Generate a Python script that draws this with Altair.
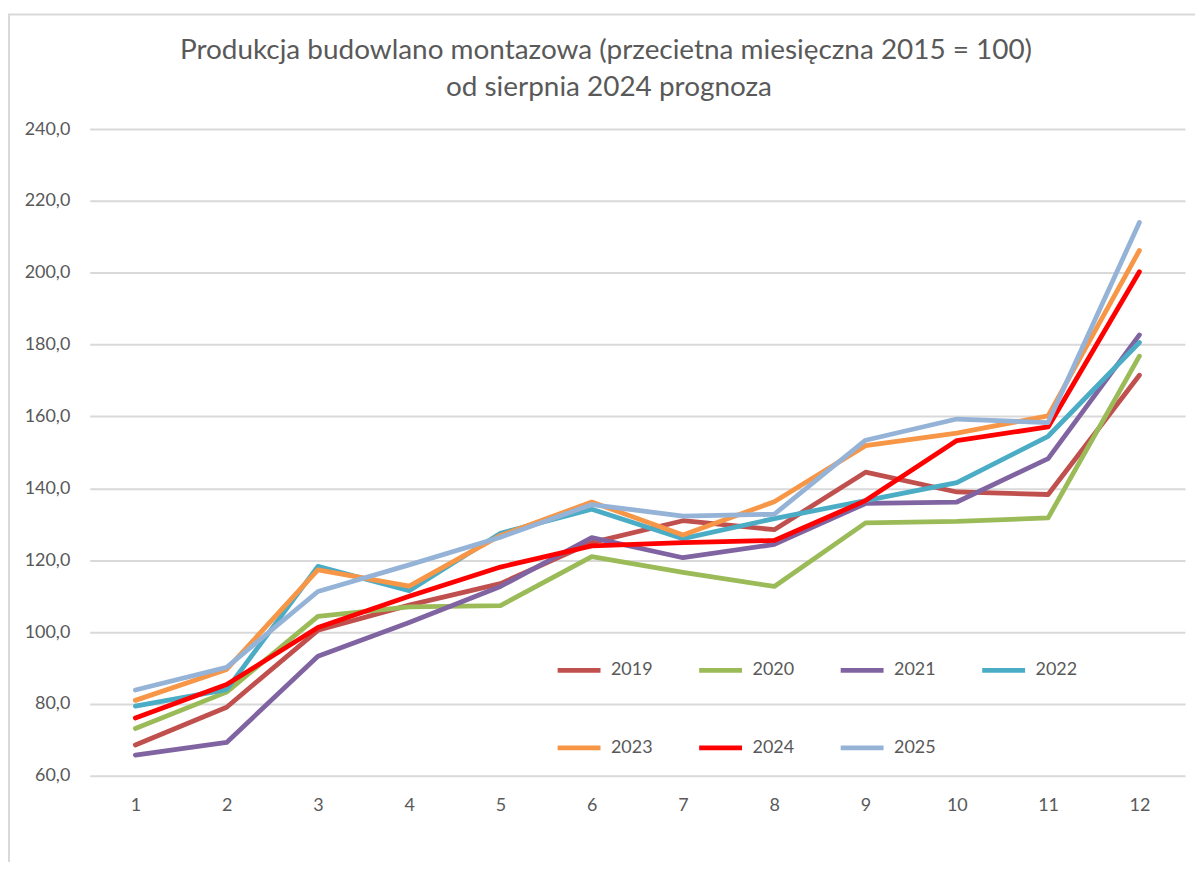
import altair as alt
import pandas as pd

months = list(range(1, 13))
years = ["2019", "2020", "2021", "2022", "2023", "2024", "2025"]

v2019 = [68.6, 79.1, 100.5, 107.5, 113.5, 124.9, 131.0, 128.5, 144.5, 139.0, 138.3, 171.5]
v2020 = [73.2, 83.3, 104.4, 107.0, 107.4, 121.0, 116.6, 112.7, 130.4, 130.8, 131.8, 176.8]
v2021 = [65.8, 69.3, 93.3, 102.7, 112.7, 126.3, 120.7, 124.4, 135.8, 136.2, 148.3, 182.7]
v2022 = [79.4, 84.0, 118.3, 111.5, 127.5, 134.2, 126.0, 131.6, 136.6, 141.6, 154.5, 180.6]
v2023 = [81.0, 89.6, 117.3, 112.8, 126.9, 136.2, 127.0, 136.3, 151.9, 155.4, 160.2, 206.2]
v2024 = [76.1, 85.4, 101.3, 110.0, 118.1, 124.0, 124.9, 125.5, 136.6, 153.3, 157.1, 200.3]
v2025 = [83.9, 90.2, 111.3, 118.7, 126.4, 135.5, 132.3, 132.8, 153.4, 159.3, 158.3, 214.0]

series = [v2019, v2020, v2021, v2022, v2023, v2024, v2025]
colors = ["#C0504D", "#9BBB59", "#8064A2", "#4BACC6", "#F79646", "#FF0000", "#95B3D7"]

title_lines = ["Produkcja budowlano montazowa (przecietna miesięczna 2015 = 100)",
               "od sierpnia 2024 prognoza"]

rows = []
for i, (y, vals) in enumerate(zip(years, series)):
    for m, v in zip(months, vals):
        rows.append({"month": m, "year": y, "value": v, "ord": i})
df = pd.DataFrame(rows)

FONT = "Lato"
GREY = "#595959"

lines = alt.Chart(df).mark_line(
    strokeWidth=4.8, strokeCap="round", strokeJoin="round"
).encode(
    x=alt.X("month:O", scale=alt.Scale(type="point", padding=0.5),
            axis=alt.Axis(title=None, labelAngle=0, ticks=False, domain=False,
                          labelFontSize=18, labelColor=GREY, labelFont=FONT,
                          labelPadding=21, grid=False)),
    y=alt.Y("value:Q", scale=alt.Scale(domain=[60, 240], nice=False, zero=False),
            axis=alt.Axis(title=None, values=list(range(60, 241, 20)), ticks=False, domain=False,
                          labelExpr="replace(format(datum.value, '.1f'), '.', ',')",
                          labelFontSize=18, labelColor=GREY, labelFont=FONT,
                          labelPadding=20, gridColor="#D9D9D9", gridWidth=2)),
    color=alt.Color("year:N", scale=alt.Scale(domain=years, range=colors),
                    legend=alt.Legend(title=None, orient="none", legendX=467, legendY=519,
                                      direction="horizontal", columns=4,
                                      symbolType="stroke", symbolSize=1850, symbolStrokeWidth=4.8,
                                      labelFontSize=18, labelColor=GREY, labelFont=FONT,
                                      labelOffset=8, columnPadding=36, rowPadding=44)),
    order="ord:Q",
)

frame = alt.Chart(pd.DataFrame({"a": [0]})).mark_rect(
    fill=None, stroke="#D9D9D9", strokeWidth=2
).encode(
    x=alt.value(-81), x2=alt.value(1200), y=alt.value(-115), y2=alt.value(900)
)

title1 = alt.Chart(pd.DataFrame({"t": [title_lines[0]]})).mark_text(
    font=FONT, fontSize=28, color=GREY, align="center", baseline="middle"
).encode(text="t:N", x=alt.value(518), y=alt.value(-78))

title2 = alt.Chart(pd.DataFrame({"t": [title_lines[1]]})).mark_text(
    font=FONT, fontSize=28, color=GREY, align="center", baseline="middle"
).encode(text="t:N", x=alt.value(521), y=alt.value(-41))

chart = alt.layer(frame, lines, title1, title2).properties(
    width=1099, height=649,
    autosize=alt.AutoSizeParams(type="none"),
    padding={"left": 82, "top": 120, "right": 10, "bottom": 85},
).configure_view(stroke=None)

chart.save("out.html", embed_options={"renderer": "svg", "actions": False})
